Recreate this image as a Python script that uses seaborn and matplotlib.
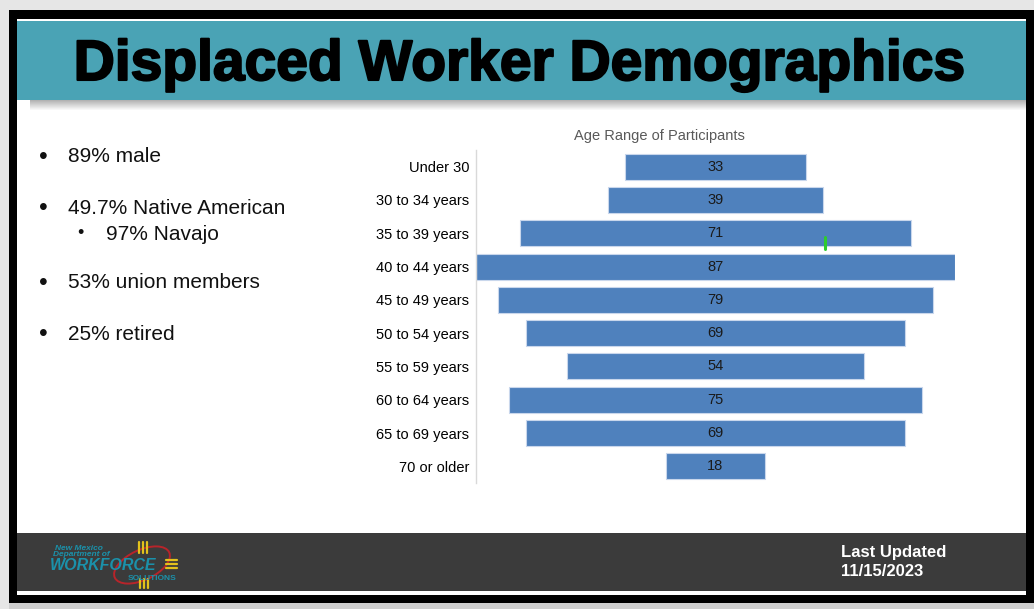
import matplotlib
matplotlib.use('Agg')
import matplotlib.pyplot as plt
import matplotlib.patheffects as pe
from matplotlib.patches import Rectangle, Ellipse
from matplotlib.lines import Line2D
import seaborn as sns
import pandas as pd

W, H = 1034, 609

# Chart data
age_groups = ['Under 30', '30 to 34 years', '35 to 39 years', '40 to 44 years',
              '45 to 49 years', '50 to 54 years', '55 to 59 years', '60 to 64 years',
              '65 to 69 years', '70 or older']
participants = [33, 39, 71, 87, 79, 69, 54, 75, 69, 18]

# Slide text
title = 'Displaced Worker Demographics'
chart_title = 'Age Range of Participants'
bullets = ['89% male', '49.7% Native American', '53% union members', '25% retired']
sub_bullet = '97% Navajo'
updated = ['Last Updated', '11/15/2023']

sns.set_theme(style='white')
plt.rcParams['font.family'] = ['Liberation Sans', 'DejaVu Sans']

fig = plt.figure(figsize=(W / 100, H / 100), dpi=100, facecolor='#e6e6e6')


def box(x, y, w, h, color, **kw):
    # rectangle given in pixel coords from the top-left
    fig.patches.append(Rectangle((x / W, 1 - (y + h) / H), w / W, h / H,
                                 transform=fig.transFigure, facecolor=color,
                                 edgecolor='none', **kw))


def txt(x, y, s, **kw):
    return fig.text(x / W, 1 - y / H, s, **kw)


def line(xs, ys, **kw):
    fig.lines.append(Line2D([x / W for x in xs], [1 - y / H for y in ys],
                            transform=fig.transFigure, **kw))


# slide frame
box(9, 603, 1025, 6, '#cfcfcf')
box(9, 10, 1025, 593, 'black')
box(17, 19, 1009, 576, 'white')
box(17, 21, 1009, 79, '#4aa3b5')
for i in range(10):
    box(30, 100 + i, 996, 1, 'black', alpha=0.3 * (1 - i / 10))
box(17, 533, 1009, 58, '#3b3b3b')

# banner title
txt(520, 80, title, fontsize=41, weight='bold', color='black', ha='center',
    va='baseline', path_effects=[pe.withStroke(linewidth=1.5, foreground='black')])

# bullet list
for y, s in zip([156, 207, 282, 333], bullets):
    txt(43, y + 1, '\u2022', fontsize=18, ha='center', va='center', color='#111111')
    txt(68, y + 1, s, fontsize=15, va='center', color='#111111')
txt(80, 234, '\u2022', fontsize=13, ha='center', va='center', color='#111111')
txt(106, 234, sub_bullet, fontsize=15, va='center', color='#111111')

# funnel chart
df = pd.DataFrame({'Age': age_groups, 'Participants': participants})
ax = fig.add_axes([476 / W, 1 - 483 / H, 479 / W, 333 / H])
ax.set_zorder(5)
ax.set_facecolor('none')
sns.barplot(data=df, x='Participants', y='Age', color='#4f81bd', saturation=1,
            width=0.78, edgecolor='#c9d7ec', linewidth=0.8, ax=ax)
# center each bar on zero
for bar, v in zip(ax.patches, participants):
    bar.set_x(-v / 2)
for i, v in enumerate(participants):
    ax.text(0, i, str(v), ha='center', va='center', fontsize=10.5, color='#1a1a1a')
ax.set_xlim(-43.5, 43.5)
ax.set_ylim(9.5, -0.5)
ax.set_xticks([])
ax.set_xlabel('')
ax.set_ylabel('')
ax.tick_params(axis='y', length=0, pad=5, labelsize=10.5, labelcolor='black')
sns.despine(ax=ax, top=True, right=True, bottom=True)
ax.spines['left'].set_color('#d9d9d9')
ax.spines['left'].set_linewidth(1)
txt(659, 136, chart_title, fontsize=10.5, color='#595959', ha='center', va='center')

# small green mark
line([825, 825], [237, 249], color='#2ecc2e', lw=2.2, zorder=6)

# footer
txt(841, 553, updated[0], fontsize=12, weight='bold', color='white', va='center')
txt(841, 572, updated[1], fontsize=12, weight='bold', color='white', va='center')

# logo (approximation)
teal = '#1b91aa'
yellow = '#e3c21c'
for x in [139, 143, 147]:
    line([x, x], [542, 553], color=yellow, lw=1.6)
    line([x + 1, x + 1], [579, 588], color=yellow, lw=1.6)
for y in [560, 564, 568]:
    line([166, 177], [y, y], color=yellow, lw=1.6)
fig.patches.append(Ellipse((142 / 100, (H - 565) / 100), 0.6, 0.3, angle=25,
                           transform=fig.dpi_scale_trans, facecolor='none',
                           edgecolor='#b8242a', lw=1.4))
txt(55, 548, 'New Mexico', fontsize=6, style='italic', weight='bold', color=teal, va='center')
txt(53, 555, 'Department of', fontsize=6, style='italic', weight='bold', color=teal, va='center')
txt(50, 565, 'WORKFORCE', fontsize=11.5, style='italic', weight='bold', color=teal, va='center')
txt(128, 578, 'SOLUTIONS', fontsize=6, weight='bold', color=teal, va='center')

fig.savefig('out.png', dpi=100, facecolor=fig.get_facecolor())
